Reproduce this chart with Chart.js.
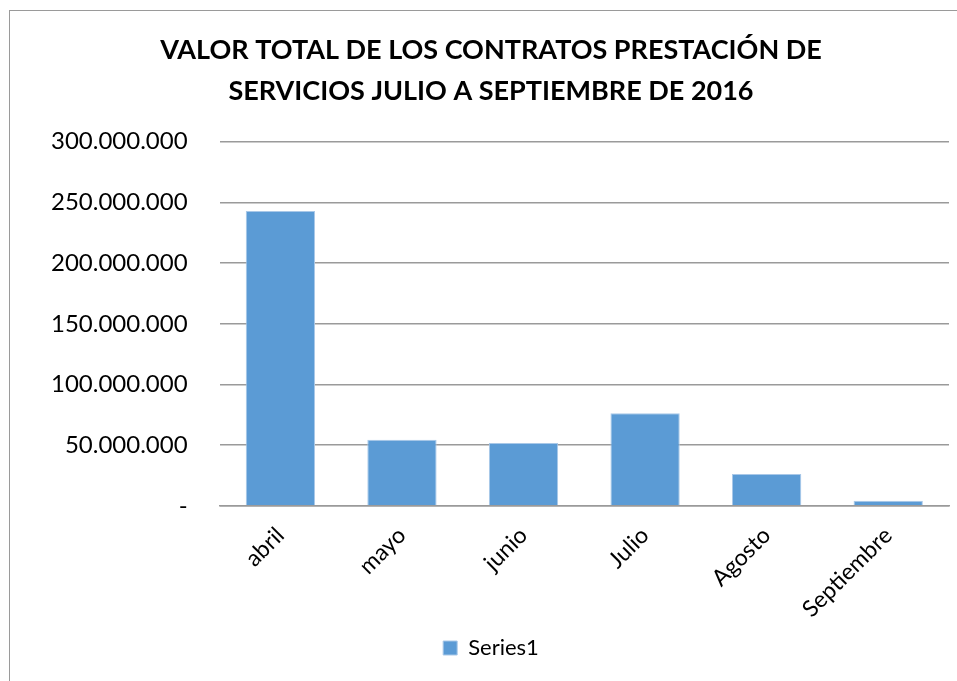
<!DOCTYPE html>
<html>
<head>
<meta charset="utf-8">
<script src="https://cdn.jsdelivr.net/npm/chart.js@4/dist/chart.umd.min.js"></script>
<style>
  html, body { margin: 0; padding: 0; background: #fff; overflow: hidden; }
  #frame { position: absolute; left: 9px; top: 10px; width: 970px; height: 700px; border: 1px solid #9a9a9a; }
  #wrap { position: absolute; left: 0; top: 0; width: 957px; height: 681px; }
</style>
</head>
<body>
<div id="frame"></div>
<div id="wrap"><canvas id="barChart"></canvas></div>
<script>
const months = ["abril", "mayo", "junio", "Julio", "Agosto", "Septiembre"];
const series1 = [243000000, 54400000, 51700000, 76200000, 26200000, 4100000];
const yTicks = [0, 50000000, 100000000, 150000000, 200000000, 250000000, 300000000];

function fmt(v) {
	if (v === 0) return "-";
	return String(v).replace(/\B(?=(\d{3})+(?!\d))/g, ".");
}

new Chart(document.getElementById("barChart"), {
	type: "bar",
	data: {
		labels: months,
		datasets: [
			{
				label: "Series1",
				data: series1,
				backgroundColor: "#5b9bd5",
				borderColor: "#a9c8e8",
				borderWidth: 1,
				barPercentage: 0.57,
				categoryPercentage: 1,
			},
		],
	},
	options: {
		responsive: true,
		maintainAspectRatio: false,
		animation: false,
		layout: { padding: { left: 33, right: 8, top: 20, bottom: 12 } },
		plugins: {
			title: {
				display: true,
				text: ["VALOR TOTAL DE LOS CONTRATOS PRESTACIÓN DE", "SERVICIOS JULIO A SEPTIEMBRE DE 2016"],
				color: "#000",
				font: { family: "Lato", size: 27, weight: "bold", lineHeight: 1.55 },
				padding: { top: 9, bottom: 29 },
			},
			legend: {
				position: "bottom",
				labels: {
					color: "#000",
					font: { family: "Lato", size: 22 },
					boxWidth: 14,
					boxHeight: 14,
					padding: 6,
				},
			},
			tooltip: { enabled: false },
		},
		scales: {
			x: {
				grid: { display: false },
				border: { color: "#9a9a9a", width: 1.5 },
				ticks: {
					color: "#000",
					font: { family: "Lato", size: 23 },
					minRotation: 45,
					maxRotation: 45,
					padding: 8,
				},
			},
			y: {
				min: 0,
				max: 300000000,
				afterBuildTicks: (axis) => {
					axis.ticks = yTicks.map((v) => ({ value: v }));
				},
				afterFit: (axis) => {
					axis.width -= 14;
				},
				grid: { color: "#9a9a9a", lineWidth: 1.5, drawTicks: false },
				border: { display: false },
				ticks: {
					color: "#000",
					font: { family: "Lato", size: 24 },
					padding: 32,
					callback: (v) => fmt(v),
				},
			},
		},
	},
});
</script>
</body>
</html>
